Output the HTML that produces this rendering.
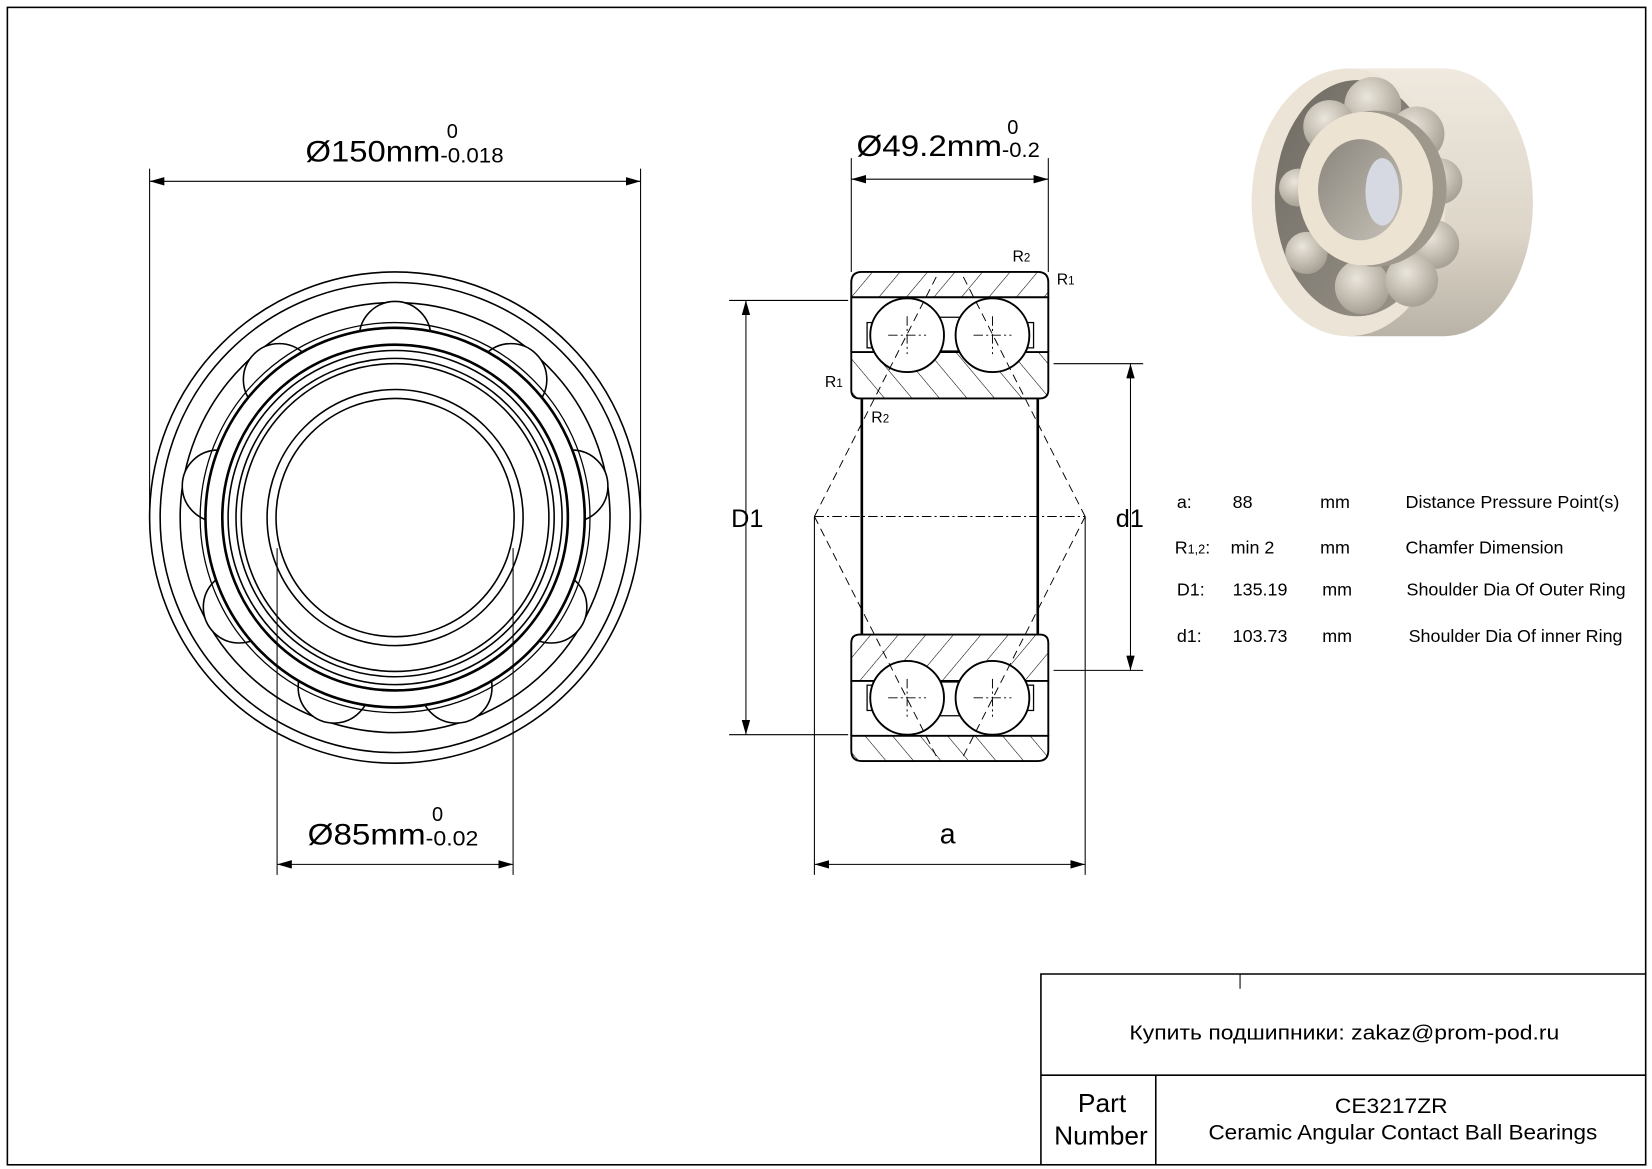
<!DOCTYPE html>
<html><head><meta charset="utf-8"><style>html,body{margin:0;padding:0;background:#fff}svg{display:block}text{font-family:"Liberation Sans","DejaVu Sans",sans-serif;fill:#000}</style></head>
<body>
<svg width="1652" height="1169" viewBox="0 0 1568 1109" preserveAspectRatio="none" xmlns="http://www.w3.org/2000/svg">
<defs>
<pattern id="h1" patternUnits="userSpaceOnUse" width="20" height="20" patternTransform="rotate(40)"><line x1="0" y1="0" x2="0" y2="20" stroke="#000" stroke-width="1"/></pattern>
<pattern id="h2" patternUnits="userSpaceOnUse" width="20" height="20" patternTransform="rotate(-40)"><line x1="0" y1="0" x2="0" y2="20" stroke="#000" stroke-width="1"/></pattern>
<marker id="ar" markerWidth="14" markerHeight="8" refX="14" refY="4" orient="auto" markerUnits="userSpaceOnUse"><path d="M0,0 L14,4 L0,8 z" fill="#000"/></marker>
<marker id="al" markerWidth="14" markerHeight="8" refX="0" refY="4" orient="auto" markerUnits="userSpaceOnUse"><path d="M14,0 L0,4 L14,8 z" fill="#000"/></marker>
<radialGradient id="ball" cx="40%" cy="35%" r="65%"><stop offset="0" stop-color="#ebe6dc"/><stop offset="1" stop-color="#a8a195"/></radialGradient>
<linearGradient id="side" x1="0" y1="0" x2="0" y2="1"><stop offset="0" stop-color="#efe9df"/><stop offset="0.6" stop-color="#ddd6c9"/><stop offset="1" stop-color="#b9b2a6"/></linearGradient>
<linearGradient id="cav" x1="0" y1="0" x2="1" y2="1"><stop offset="0" stop-color="#6e6a63"/><stop offset="1" stop-color="#9c968b"/></linearGradient>
<linearGradient id="bore" x1="0" y1="0" x2="1" y2="1"><stop offset="0" stop-color="#8a857c"/><stop offset="1" stop-color="#c7c2b8"/></linearGradient>
</defs>
<rect x="7" y="7" width="1555" height="1098" fill="none" stroke="#000" stroke-width="1.5"/>

<g fill="none" stroke="#000" stroke-width="1.5">
<line x1="142" y1="160" x2="142" y2="490" stroke-width="1"/>
<line x1="608" y1="160" x2="608" y2="490" stroke-width="1"/>
<line x1="142" y1="172" x2="608" y2="172" stroke-width="1" marker-start="url(#al)" marker-end="url(#ar)"/>
<circle cx="375" cy="491" r="233"/>
<circle cx="375" cy="491" r="223"/>
<circle cx="375" cy="491" r="204"/>
<g fill="#fff">
<circle cx="375" cy="320" r="34"/>
<circle cx="265" cy="360" r="34"/>
<circle cx="207" cy="461" r="34"/>
<circle cx="227" cy="576" r="34"/>
<circle cx="317" cy="652" r="34"/>
<circle cx="433" cy="652" r="34"/>
<circle cx="523" cy="576" r="34"/>
<circle cx="543" cy="461" r="34"/>
<circle cx="485" cy="360" r="34"/>
</g>
<circle cx="375" cy="491" r="185" stroke-width="1.2"/>
<circle cx="375" cy="491" r="180" fill="#fff" stroke-width="2.5"/>
<circle cx="375" cy="491" r="164" stroke-width="2.5"/>
<circle cx="375" cy="491" r="158.5"/>
<circle cx="375" cy="491" r="151"/>
<circle cx="375" cy="491" r="146"/>
<circle cx="375" cy="491" r="121.5"/>
<circle cx="375" cy="491" r="113"/>
<line x1="263" y1="520" x2="263" y2="830" stroke-width="1"/>
<line x1="487" y1="520" x2="487" y2="830" stroke-width="1"/>
<line x1="263" y1="820" x2="487" y2="820" stroke-width="1" marker-start="url(#al)" marker-end="url(#ar)"/>
</g>
<text x="290" y="153" font-size="28" textLength="128" lengthAdjust="spacingAndGlyphs">Ø150mm</text>
<text x="424" y="131" font-size="19">0</text>
<text x="418" y="154" font-size="20" textLength="60" lengthAdjust="spacingAndGlyphs">-0.018</text>
<text x="292" y="801" font-size="28" textLength="112" lengthAdjust="spacingAndGlyphs">Ø85mm</text>
<text x="410" y="779" font-size="19">0</text>
<text x="404" y="802" font-size="20" textLength="50" lengthAdjust="spacingAndGlyphs">-0.02</text>

<g fill="none" stroke="#000" stroke-width="1">
<line x1="808" y1="150" x2="808" y2="258"/>
<line x1="995" y1="150" x2="995" y2="258"/>
<line x1="808" y1="170" x2="995" y2="170" marker-start="url(#al)" marker-end="url(#ar)"/>
<line x1="692" y1="285" x2="805" y2="285"/>
<line x1="692" y1="697" x2="805" y2="697"/>
<line x1="708" y1="285" x2="708" y2="697" marker-start="url(#al)" marker-end="url(#ar)"/>
<line x1="1000" y1="345" x2="1085" y2="345"/>
<line x1="1000" y1="636" x2="1085" y2="636"/>
<line x1="1073" y1="345" x2="1073" y2="636" marker-start="url(#al)" marker-end="url(#ar)"/>
<line x1="773" y1="490" x2="773" y2="830"/>
<line x1="1030" y1="490" x2="1030" y2="830"/>
<line x1="773" y1="820" x2="1030" y2="820" marker-start="url(#al)" marker-end="url(#ar)"/>
</g>
<g stroke="#000" stroke-width="1.8">
<path d="M808,282 V268 Q808,258 818,258 H985 Q995,258 995,268 V282 Z" fill="url(#h1)"/>
<path d="M808,334 H995 V370 Q995,378 987,378 H816 Q808,378 808,370 Z" fill="url(#h2)"/>
<path d="M808,646 H995 V610 Q995,602 987,602 H816 Q808,602 808,610 Z" fill="url(#h1)"/>
<path d="M808,698 V712 Q808,722 818,722 H985 Q995,722 995,712 V698 Z" fill="url(#h2)"/>
</g>
<g fill="none" stroke="#000" stroke-width="1.8">
<line x1="808" y1="282" x2="808" y2="334"/><line x1="995" y1="282" x2="995" y2="334"/>
<line x1="808" y1="646" x2="808" y2="698"/><line x1="995" y1="646" x2="995" y2="698"/>
<line x1="818" y1="378" x2="818" y2="602" stroke-width="2.5"/>
<line x1="985" y1="378" x2="985" y2="602" stroke-width="2.5"/>
<line x1="861" y1="301" x2="942" y2="301" stroke-width="1.2"/><line x1="861" y1="333" x2="942" y2="333" stroke-width="1.2"/>
<line x1="861" y1="647" x2="942" y2="647" stroke-width="1.2"/><line x1="861" y1="679" x2="942" y2="679" stroke-width="1.2"/>
<rect x="823" y="306" width="6" height="24" stroke-width="1.2"/><rect x="975" y="306" width="6" height="24" stroke-width="1.2"/>
<rect x="823" y="650" width="6" height="24" stroke-width="1.2"/><rect x="975" y="650" width="6" height="24" stroke-width="1.2"/>
<g fill="#fff">
<circle cx="861" cy="318" r="35"/><circle cx="942" cy="318" r="35"/>
<circle cx="861" cy="662" r="35"/><circle cx="942" cy="662" r="35"/>
</g>
</g>
<g fill="none" stroke="#000" stroke-width="0.9" stroke-dasharray="9,3,2,3">
<line x1="773" y1="490" x2="1030" y2="490"/>
<line x1="843" y1="318" x2="879" y2="318"/><line x1="861" y1="300" x2="861" y2="336"/>
<line x1="924" y1="318" x2="960" y2="318"/><line x1="942" y1="300" x2="942" y2="336"/>
<line x1="843" y1="662" x2="879" y2="662"/><line x1="861" y1="644" x2="861" y2="680"/>
<line x1="924" y1="662" x2="960" y2="662"/><line x1="942" y1="644" x2="942" y2="680"/>
</g>
<g fill="none" stroke="#000" stroke-width="0.9" stroke-dasharray="8,5">
<line x1="773" y1="490" x2="889" y2="262"/>
<line x1="1030" y1="490" x2="914" y2="262"/>
<line x1="773" y1="490" x2="889" y2="718"/>
<line x1="1030" y1="490" x2="914" y2="718"/>
</g>
<text x="813" y="148" font-size="28" textLength="138" lengthAdjust="spacingAndGlyphs">Ø49.2mm</text>
<text x="956" y="127" font-size="19">0</text>
<text x="951" y="149" font-size="20" textLength="36" lengthAdjust="spacingAndGlyphs">-0.2</text>
<text x="694" y="500" font-size="24">D1</text>
<text x="1059" y="500" font-size="24">d1</text>
<text x="892" y="800" font-size="27">a</text>
<text x="961" y="248" font-size="15">R<tspan font-size="11">2</tspan></text>
<text x="1003" y="270" font-size="15">R<tspan font-size="11">1</tspan></text>
<text x="783" y="367" font-size="15">R<tspan font-size="11">1</tspan></text>
<text x="827" y="401" font-size="15">R<tspan font-size="11">2</tspan></text>

<g font-size="17">
<text x="1117" y="482">a:</text><text x="1170" y="482">88</text><text x="1253" y="482">mm</text><text x="1334" y="482" textLength="203" lengthAdjust="spacingAndGlyphs">Distance Pressure Point(s)</text>
<text x="1115" y="525">R<tspan font-size="12">1,2</tspan>:</text><text x="1168" y="525">min  2</text><text x="1253" y="525">mm</text><text x="1334" y="525" textLength="150" lengthAdjust="spacingAndGlyphs">Chamfer Dimension</text>
<text x="1117" y="565">D1:</text><text x="1170" y="565">135.19</text><text x="1255" y="565">mm</text><text x="1335" y="565" textLength="208" lengthAdjust="spacingAndGlyphs">Shoulder Dia Of Outer Ring</text>
<text x="1117" y="609">d1:</text><text x="1170" y="609">103.73</text><text x="1255" y="609">mm</text><text x="1337" y="609" textLength="203" lengthAdjust="spacingAndGlyphs">Shoulder Dia Of inner Ring</text>
</g>

<g>
<path d="M1280,65 H1370 A85,127 0 0 1 1370,319 H1280 Z" fill="url(#side)"/>
<ellipse cx="1280" cy="192" rx="92" ry="127" fill="#ece4d6"/>
<ellipse cx="1288" cy="188" rx="78" ry="112" fill="url(#cav)"/>
<g fill="url(#ball)">
<circle cx="1303" cy="100" r="27"/><circle cx="1262" cy="120" r="25"/><circle cx="1345" cy="127" r="26"/>
<circle cx="1366" cy="172" r="22"/><circle cx="1232" cy="178" r="18"/><circle cx="1362" cy="232" r="23"/>
<circle cx="1240" cy="240" r="20"/><circle cx="1293" cy="272" r="26"/><circle cx="1340" cy="266" r="25"/>
</g>
<ellipse cx="1305" cy="179" rx="68" ry="74" fill="#9d978c"/>
<ellipse cx="1296" cy="179" rx="64" ry="73" fill="#ede3d3"/>
<ellipse cx="1291" cy="180" rx="40" ry="48" fill="url(#bore)"/>
<ellipse cx="1312" cy="182" rx="16" ry="32" fill="#d6d8e2"/>
</g>

<g fill="none" stroke="#000" stroke-width="1.5">
<path d="M988,1105 V924 H1562"/>
<line x1="988" y1="1020" x2="1562" y2="1020"/>
<line x1="1097" y1="1020" x2="1097" y2="1105"/>
<line x1="1177" y1="924" x2="1177" y2="938" stroke-width="1"/>
</g>
<text x="1072" y="986" font-size="19" textLength="408" lengthAdjust="spacingAndGlyphs">Купить подшипники: zakaz@prom-pod.ru</text>
<text x="1046" y="1055" font-size="25" text-anchor="middle">Part</text>
<text x="1045" y="1086" font-size="25" text-anchor="middle">Number</text>
<text x="1267" y="1056" font-size="20" textLength="107" lengthAdjust="spacingAndGlyphs">CE3217ZR</text>
<text x="1147" y="1081" font-size="20" textLength="369" lengthAdjust="spacingAndGlyphs">Ceramic Angular Contact Ball Bearings</text>
</svg>
</body></html>
